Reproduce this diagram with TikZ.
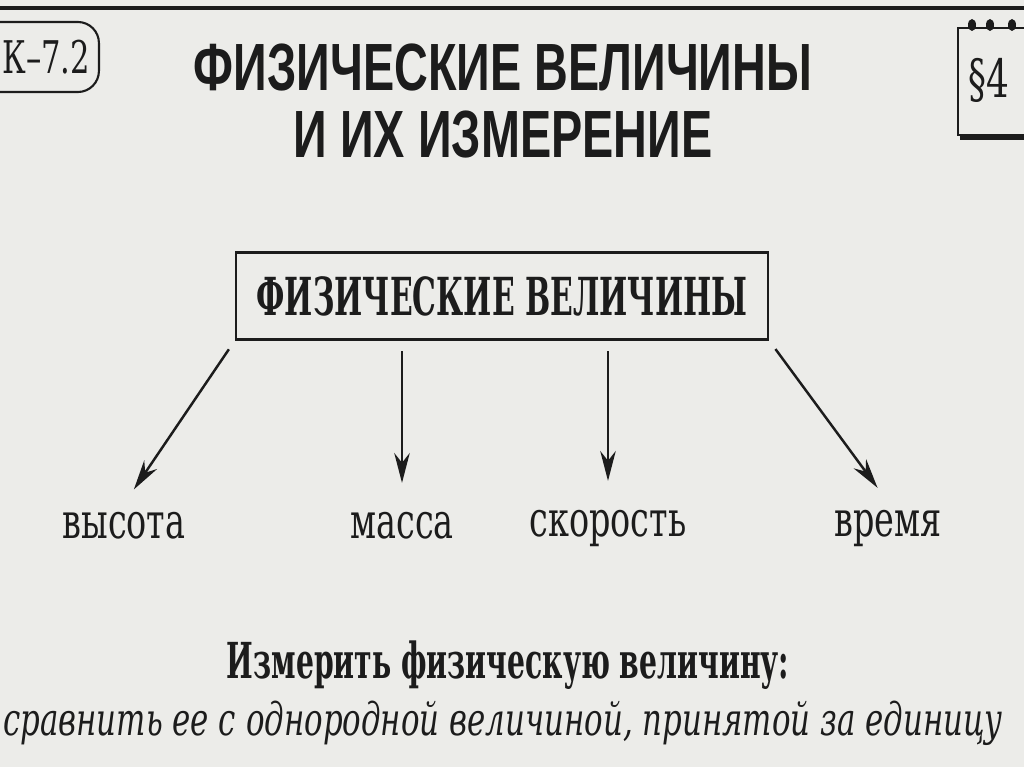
\documentclass[tikz,border=0pt]{standalone}
\usepackage{fontspec}
\setmainfont[FakeStretch=0.68]{DejaVu Serif}
\newfontfamily\headfont[FakeStretch=0.70]{Liberation Sans}
\newfontfamily\boldcond[FakeStretch=0.57]{DejaVu Serif}
\usetikzlibrary{arrows.meta, positioning, calc}
\definecolor{cPaper}{RGB}{236,236,233}
\definecolor{cInk}{RGB}{28,28,28}
\tikzset{
	qbox/.style  ={rectangle, draw=cInk, line width=0.6pt, minimum width=5.32cm, minimum height=0.87cm, align=center, text=cInk, font=\boldcond\bfseries\fontsize{14.9}{17}\selectfont},
	qlabel/.style={text=cInk, inner sep=2pt, anchor=base, font=\fontsize{14}{16}\selectfont},
	qtext/.style ={text=cInk, inner sep=0pt, anchor=base, align=center},
	sig/.style   ={-{Stealth[length=8.5pt, width=4.4pt]}, line width=0.7pt, draw=cInk},
}
\begin{document}
\begin{tikzpicture}[x=0.01cm, y=-0.01cm]
	\fill[cPaper] (0,0) rectangle (1024,767);
	\useasboundingbox (0,0) rectangle (1024,767);
	% header
	\draw[cInk, line width=1pt] (0,8) -- (1024,8);
	\node[qlabel, anchor=east, draw=cInk, line width=0.6pt, rounded corners=6pt, minimum height=0.7cm, inner xsep=2.5pt, text width=1.2cm, align=right, font=\fontsize{12.8}{15}\selectfont] (code) at (100,57) {К–7.2};
	\node[qtext, anchor=center, font=\headfont\bfseries\fontsize{19}{19}\selectfont] (title) at (503,101) {ФИЗИЧЕСКИЕ ВЕЛИЧИНЫ\\И ИХ ИЗМЕРЕНИЕ};
	\draw[cInk, line width=0.6pt] (1030,28) -- (958,28) -- (958,135) -- (1030,135);
	\draw[cInk, line width=1.6pt] (960,137) -- (1030,137);
	\foreach \rx in {972,990,1012}
		\fill[cInk] (\rx,25) ellipse (4 and 6);
	\node[qlabel, anchor=center, font=\fontsize{15}{17}\selectfont] (para) at (989,80) {§4};
	% tree
	\node[qbox] (phys) at (502,296) {ФИЗИЧЕСКИЕ ВЕЛИЧИНЫ};
	\node[qlabel] (h) at (124,538) {высота};
	\node[qlabel] (m) at (402,538) {масса};
	\node[qlabel] (v) at (608,536) {скорость};
	\node[qlabel] (t) at (888,536) {время};
	\draw[sig, shorten <=3pt, shorten >=5pt] (phys.south west) -- (h.north);
	\draw[sig, shorten <=3pt, shorten >=6pt] (m |- phys.south) -- (m.north);
	\draw[sig, shorten <=3pt, shorten >=6pt] (v |- phys.south) -- (v.north);
	\draw[sig, shorten <=3pt, shorten >=5pt] (phys.south east) -- (t.north);
	% definition
	\node[qtext, font=\boldcond\bfseries\fontsize{14.1}{16}\selectfont] (rule) at (508,678) {Измерить физическую величину:};
	\node[qtext, font=\fontsize{12.9}{15}\selectfont\itshape] (defn) at (503,735) {сравнить ее с однородной величиной, принятой за единицу};
\end{tikzpicture}
\end{document}
